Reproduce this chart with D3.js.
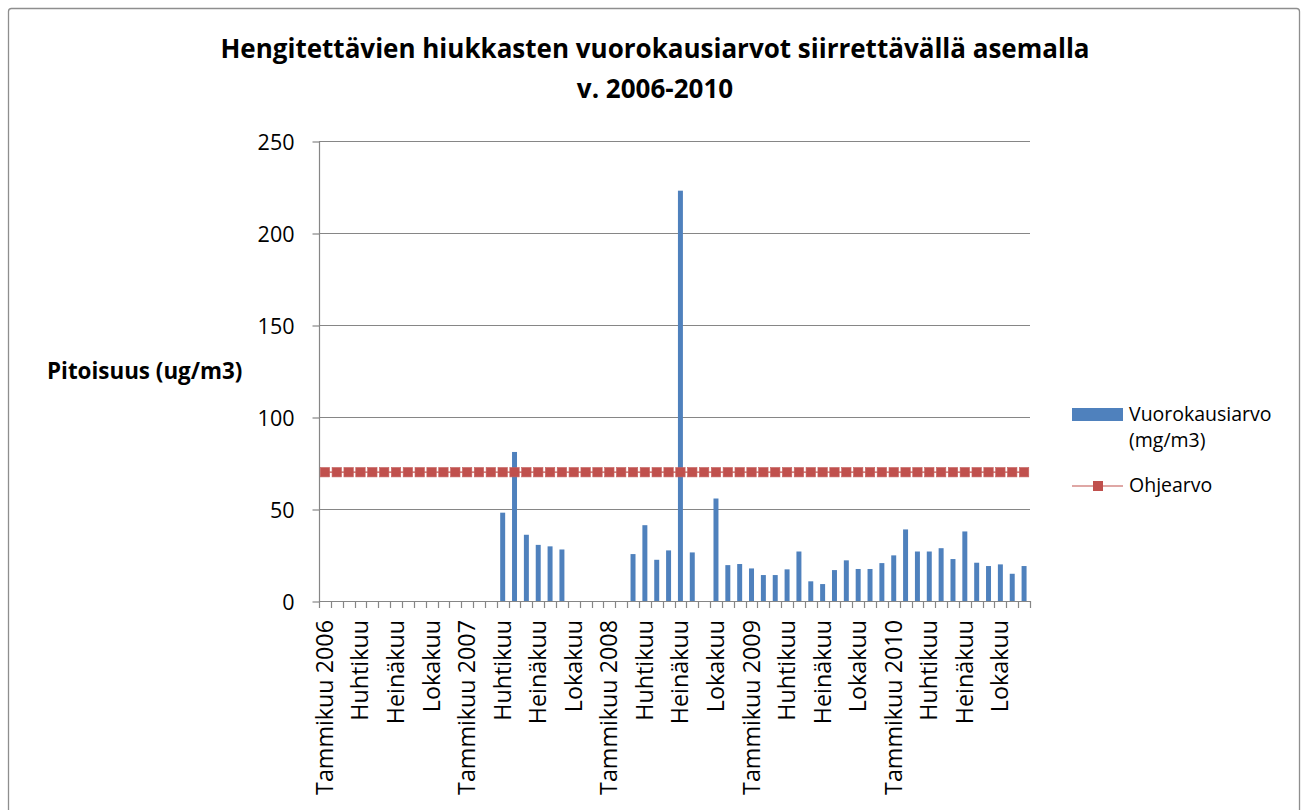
<!DOCTYPE html>
<html>
<head>
<meta charset="utf-8">
<script src="https://d3js.org/d3.v7.min.js"></script>
<style>
  body { margin: 0; background: white; }
  text { font-family: "Open Sans", Lato, sans-serif; fill: #000; }
</style>
</head>
<body>
<svg width="1305" height="810"></svg>
<script>
// months and years on the category axis
var months = ["Tammikuu", "Helmikuu", "Maaliskuu", "Huhtikuu", "Toukokuu", "Kesäkuu",
              "Heinäkuu", "Elokuu", "Syyskuu", "Lokakuu", "Marraskuu", "Joulukuu"];
var years = [2006, 2007, 2008, 2009, 2010];

// monthly values (ug/m3), null = no measurement
var dailyValues = [
    null, null, null, null, null, null, null, null, null, null, null, null,
    null, null, null, 48, 81, 36, 30.5, 29.7, 28, null, null, null,
    null, null, 25.5, 41.2, 22.4, 27.5, 223, 26.4, null, 55.7, 19.5, 20.1,
    17.7, 14.1, 14.1, 17.2, 26.9, 10.7, 9.2, 16.8, 22.1, 17.4, 17.4, 20.6,
    24.8, 38.9, 26.9, 26.9, 28.7, 22.8, 37.8, 20.8, 19, 19.9, 14.8, 19
];

// guideline value per month
var guideValues = [
    70, 70, 70, 70, 70, 70, 70, 70, 70, 70, 70, 70,
    70, 70, 70, 70, 70, 70, 70, 70, 70, 70, 70, 70,
    70, 70, 70, 70, 70, 70, 70, 70, 70, 70, 70, 70,
    70, 70, 70, 70, 70, 70, 70, 70, 70, 70, 70, 70,
    70, 70, 70, 70, 70, 70, 70, 70, 70, 70, 70, 70
];

var yTicks = [0, 50, 100, 150, 200, 250];

var seriesNames = ["Vuorokausiarvo", "(mg/m3)", "Ohjearvo"];
var titleLines = ["Hengitettävien hiukkasten vuorokausiarvot siirrettävällä asemalla", "v. 2006-2010"];

// build category names, january carries the year
var categories = [];
years.forEach(function(yr) {
    months.forEach(function(m, i) {
        categories.push(i == 0 ? m + " " + yr : m);
    });
});

var svg = d3.select("svg");
var gridColor = "#868686";

// chart border
svg.append("rect")
    .attr("x", 8.5).attr("y", 8.5)
    .attr("width", 1291).attr("height", 812)
    .attr("rx", 3)
    .style("fill", "white")
    .style("stroke", "#8e8e8e")
    .style("stroke-width", 1.3);

// scales (month names repeat, so the band scale runs on indexes)
var x = d3.scaleBand()
    .domain(d3.range(categories.length))
    .range([319, 1030])
    .paddingInner(0.58)
    .paddingOuter(0.29);

var y = d3.scaleLinear()
    .domain([0, 250])
    .range([601, 141]);

var step = x.step();

// gridlines
svg.append("g")
    .selectAll("line")
    .data(yTicks.filter(function(d) { return d > 0; }))
    .enter().append("line")
    .attr("x1", 319).attr("x2", 1030)
    .attr("y1", function(d) { return Math.round(y(d)) + 0.5; })
    .attr("y2", function(d) { return Math.round(y(d)) + 0.5; })
    .style("stroke", gridColor)
    .style("stroke-width", 1.2);

// y axis
var yAxis = svg.append("g")
    .attr("transform", "translate(319.5,0.5)")
    .call(d3.axisLeft(y).tickValues(yTicks).tickSize(7).tickPadding(18));
yAxis.selectAll("path, line").style("stroke", gridColor).style("stroke-width", 1.2);
yAxis.select(".domain").attr("d", "M-0,601V141");
yAxis.selectAll("text")
    .style("font-size", "21.5px")
    .style("font-family", "'Open Sans'")
    .attr("dy", "0.36em");

// bars
svg.append("g")
    .selectAll("rect")
    .data(dailyValues.map(function(v, i) { return {i: i, v: v}; })
        .filter(function(d) { return d.v != null; }))
    .enter().append("rect")
    .attr("x", function(d) { return x(d.i); })
    .attr("width", x.bandwidth())
    .attr("y", function(d) { return y(d.v); })
    .attr("height", function(d) { return y(0) - y(d.v); })
    .style("fill", "#4f81bd");

// x axis line and ticks at category boundaries
var xAxis = svg.append("g");
xAxis.append("line")
    .attr("x1", 319).attr("x2", 1031)
    .attr("y1", 601.5).attr("y2", 601.5)
    .style("stroke", gridColor)
    .style("stroke-width", 1.2);
xAxis.selectAll(".tick")
    .data(d3.range(categories.length + 1))
    .enter().append("line")
    .attr("class", "tick")
    .attr("x1", function(i) { return Math.round(319 + i * step) + 0.5; })
    .attr("x2", function(i) { return Math.round(319 + i * step) + 0.5; })
    .attr("y1", 601).attr("y2", 608)
    .style("stroke", gridColor)
    .style("stroke-width", 1.2);

// category labels, every third month
xAxis.selectAll(".lbl")
    .data(d3.range(0, categories.length, 3))
    .enter().append("text")
    .attr("class", "lbl")
    .attr("transform", function(i) {
        return "translate(" + (x(i) + x.bandwidth() / 2 + 8) + ",620) rotate(-90)";
    })
    .attr("text-anchor", "end")
    .style("font-size", "23.3px")
    .text(function(i) { return categories[i]; });

// guideline series
var guide = guideValues.map(function(v, i) { return {i: i, v: v}; });
svg.append("path")
    .datum(guide)
    .attr("d", d3.line()
        .x(function(d) { return x(d.i) + x.bandwidth() / 2; })
        .y(function(d) { return y(d.v); }))
    .style("fill", "none")
    .style("stroke", "#c0504d")
    .style("stroke-width", 1.2);
svg.append("g")
    .selectAll("rect")
    .data(guide)
    .enter().append("rect")
    .attr("x", function(d) { return x(d.i) + x.bandwidth() / 2 - 4.7; })
    .attr("y", function(d) { return y(d.v) - 4.7; })
    .attr("width", 9.4).attr("height", 9.4)
    .style("fill", "#c0504d")
    .style("stroke", "#c4625f")
    .style("stroke-width", 0.6);

// title
svg.append("g")
    .selectAll("text")
    .data(titleLines)
    .enter().append("text")
    .attr("x", 655)
    .attr("y", function(d, i) { return 58 + i * 40; })
    .attr("text-anchor", "middle")
    .style("font-size", "26px")
    .style("font-weight", "bold")
    .text(function(d) { return d; });

// y axis title
svg.append("text")
    .attr("x", 47).attr("y", 379)
    .style("font-size", "22.4px")
    .style("font-weight", "bold")
    .text("Pitoisuus (ug/m3)");

// legend
var legend = svg.append("g");
legend.append("rect")
    .attr("x", 1072).attr("y", 408)
    .attr("width", 51).attr("height", 13)
    .style("fill", "#4f81bd");
legend.append("line")
    .attr("x1", 1072).attr("x2", 1123)
    .attr("y1", 486).attr("y2", 486)
    .style("stroke", "#c0504d")
    .style("stroke-width", 1.2);
legend.append("rect")
    .attr("x", 1093).attr("y", 481)
    .attr("width", 10).attr("height", 10)
    .style("fill", "#c0504d");
legend.selectAll(".ltxt")
    .data(seriesNames)
    .enter().append("text")
    .attr("class", "ltxt")
    .attr("x", 1129)
    .attr("y", function(d, i) { return [421, 447, 492][i]; })
    .style("font-size", "19.5px")
    .text(function(d) { return d; });
</script>
</body>
</html>
